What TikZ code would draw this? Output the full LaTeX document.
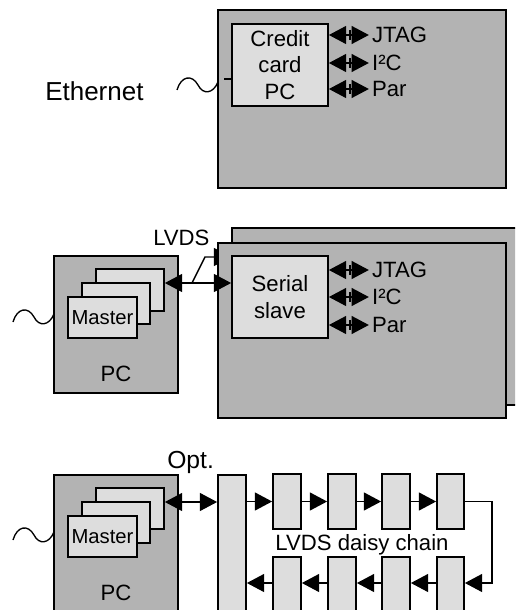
\documentclass[tikz,border=0pt]{standalone}
\usepackage{fontspec}
\setmainfont{Liberation Sans}
\usetikzlibrary{arrows.meta,fit,calc}
\definecolor{dk}{HTML}{B3B3B3}
\definecolor{lt}{HTML}{DDDDDD}
\begin{document}
\begin{tikzpicture}[x=0.75pt,y=-0.75pt,
  dkbox/.style={draw, fill=dk, line width=1.3pt, inner sep=0pt},
  ltbox/.style={draw, fill=lt, line width=1.3pt, inner sep=0pt},
  conn/.style={line width=1.1pt},
  tip/.style={-{Triangle[length=13pt,width=13.5pt]}},
  dbl/.style={{Triangle[length=13pt,width=13.5pt]}-{Triangle[length=13pt,width=13.5pt]}},
  lbl/.style={inner sep=0pt, font=\fontsize{16.6}{20}\selectfont},
  wave/.style={line width=1pt}]
\useasboundingbox (0,0) rectangle (515,610);
\clip (0,0) rectangle (515,610);

% ---------- top ----------
\node[dkbox, fit={(218,10)(506,188)}] (top) {};
\node[ltbox, fit={(232,24)(328,106)}] (cc) {};
\node[lbl, align=center] (cct) at (cc.center) {Credit\\card\\PC};
\coordinate (ytk) at (0,79);
\draw[conn] (224,79) -- (cc.west |- ytk);
\foreach \yy/\lab [count=\i] in {35/JTAG,63/I²C,89/Par} {
  \coordinate (ya\i) at (0,\yy);
  \coordinate (ea\i) at ($(cc.east |- ya\i)+(40,0)$);
  \draw[conn,dbl] (cc.east |- ya\i) -- (ea\i);
  \draw[conn] ($(cc.east |- ya\i)+(21,-5)$) -- ++(0,10);
  \node[lbl, anchor=west] (la\i) at ($(ea\i)+(3,0)$) {\lab};
}
\draw[wave] (177,90) .. controls (181,76) and (192,74) .. (198,85) .. controls (203,95) and (213,94) .. (218,82);
\node[inner sep=0pt, anchor=west, font=\fontsize{19.5}{23}\selectfont] (eth) at (45,91) {Ethernet};

% ---------- middle ----------
\node[dkbox, fit={(54,256)(178,393)}] (pc1) {};
\node[ltbox, fit={(96,269)(164,311)}] (m1c) {};
\node[ltbox, fit={(82,283)(150,324)}] (m1b) {};
\node[ltbox, fit={(68,297)(137,338)}] (m1a) {};
\node[lbl, font=\fontsize{15.2}{18}\selectfont] (m1t) at (m1a.center) {Master};
\node[lbl] (pc1t) at (116,374) {PC};
\draw[wave] (13,322) .. controls (17,308) and (28,306) .. (34,317) .. controls (39,327) and (49,326) .. (54,314);

\node[dkbox, fit={(232,228)(530,405)}] (sb2) {};
\coordinate (lv2) at (0,257);
\coordinate (lv1) at (0,283);
\draw[conn,tip] (192,283) -- (205,257) -- (sb2.west |- lv2);
\node[dkbox, fit={(218,243)(506,418)}] (sb1) {};
\node[ltbox, fit={(232,256)(328,338)}] (sl) {};
\node[lbl, align=center] (slt) at (sl.center) {Serial\\slave};
\draw[conn,dbl] (m1c.east |- lv1) -- (sl.west |- lv1);
\node[lbl, anchor=base west] (lvds) at (153,245) {LVDS};
\foreach \yy/\lab [count=\i] in {270/JTAG,297/I²C,325/Par} {
  \coordinate (yb\i) at (0,\yy);
  \coordinate (eb\i) at ($(sl.east |- yb\i)+(40,0)$);
  \draw[conn,dbl] (sl.east |- yb\i) -- (eb\i);
  \draw[conn] ($(sl.east |- yb\i)+(21,-5)$) -- ++(0,10);
  \node[lbl, anchor=west] (lb\i) at ($(eb\i)+(3,0)$) {\lab};
}

% ---------- bottom ----------
\node[dkbox, fit={(54,475)(178,625)}] (pc2) {};
\node[ltbox, fit={(96,488)(164,529)}] (m2c) {};
\node[ltbox, fit={(82,502)(150,543)}] (m2b) {};
\node[ltbox, fit={(68,516)(137,557)}] (m2a) {};
\node[lbl, font=\fontsize{15.2}{18}\selectfont] (m2t) at (m2a.center) {Master};
\node[lbl] (pc2t) at (116,593) {PC};
\draw[wave] (13,540) .. controls (17,526) and (28,524) .. (34,535) .. controls (39,545) and (49,544) .. (54,532);
\node[inner sep=0pt, anchor=base west, font=\fontsize{18.5}{22}\selectfont] (opt) at (167,468) {Opt.};

\node[ltbox, fit={(218,475)(246,625)}] (bar) {};
\coordinate (ob) at (0,502);
\draw[conn,dbl] (m2c.east |- ob) -- (bar.west |- ob);
\foreach \i/\xa/\xb in {1/273/301,2/328/356,3/382/410,4/437/464} {
  \node[ltbox, fit={(\xa,474)(\xb,529)}] (u\i) {};
  \node[ltbox, fit={(\xa,557)(\xb,625)}] (l\i) {};
}
\draw[conn,tip] (bar.east |- u1.west) -- (u1.west);
\draw[conn,tip] (u1.east) -- (u2.west);
\draw[conn,tip] (u2.east) -- (u3.west);
\draw[conn,tip] (u3.east) -- (u4.west);
\coordinate (rt) at (492,583);
\draw[conn,tip] (u4.east) -| (rt) -- (l4.east |- rt);
\draw[conn,tip] (l4.west |- rt) -- (l3.east |- rt);
\draw[conn,tip] (l3.west |- rt) -- (l2.east |- rt);
\draw[conn,tip] (l2.west |- rt) -- (l1.east |- rt);
\draw[conn,tip] (l1.west |- rt) -- (bar.east |- rt);
\node[lbl] (dc) at (362,545) {LVDS daisy chain};
\end{tikzpicture}
\end{document}
